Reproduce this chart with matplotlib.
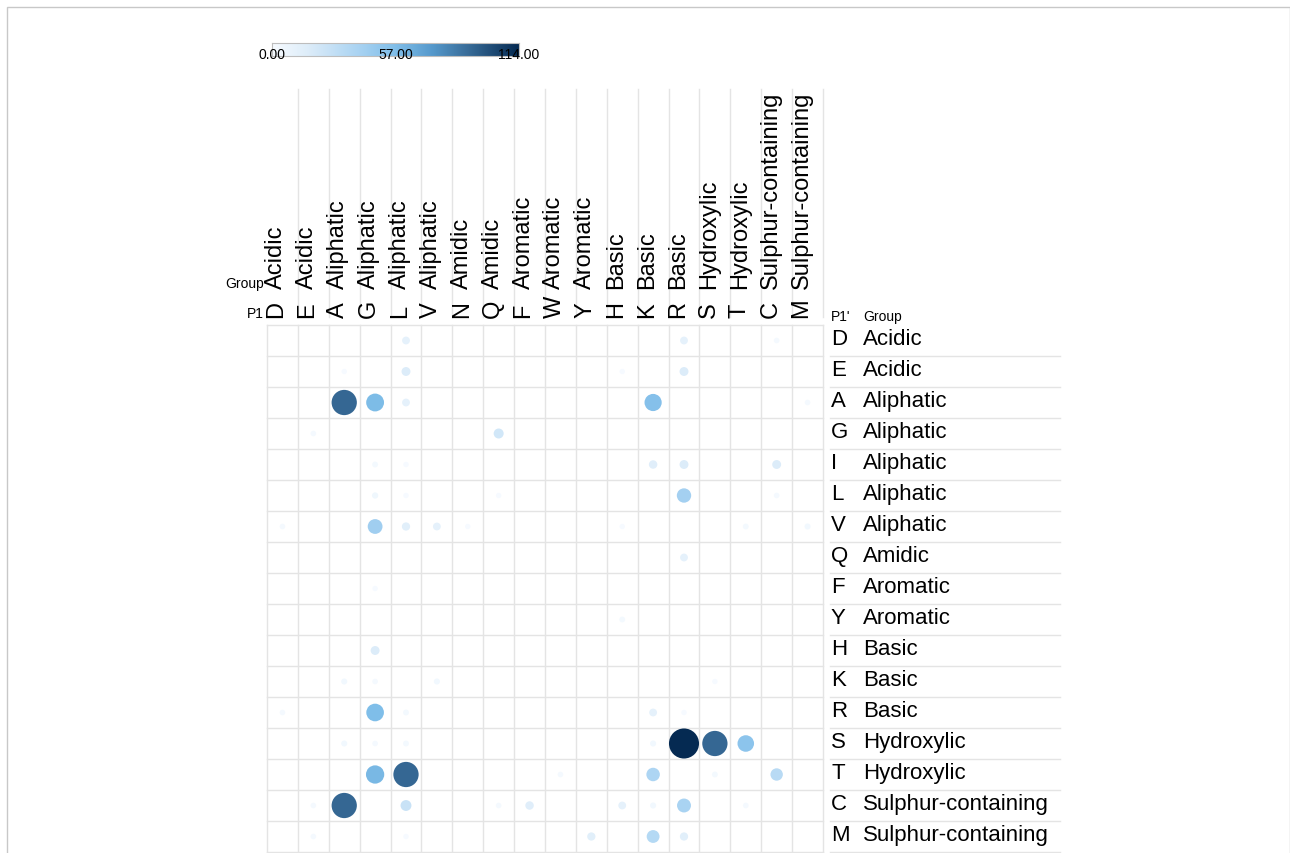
import matplotlib
matplotlib.use("Agg")
import matplotlib.pyplot as plt
import numpy as np
from matplotlib.colors import LinearSegmentedColormap, Normalize
from matplotlib.patches import Rectangle

plt.rcParams['font.family'] = ['Liberation Sans', 'DejaVu Sans']

# ---------------- data ----------------
p1_residues = ["D", "E", "A", "G", "L", "V", "N", "Q", "F", "W", "Y", "H", "K", "R", "S", "T", "C", "M"]
p1_groups = ["Acidic", "Acidic", "Aliphatic", "Aliphatic", "Aliphatic", "Aliphatic", "Amidic", "Amidic",
             "Aromatic", "Aromatic", "Aromatic", "Basic", "Basic", "Basic", "Hydroxylic", "Hydroxylic",
             "Sulphur-containing", "Sulphur-containing"]
p1p_residues = ["D", "E", "A", "G", "I", "L", "V", "Q", "F", "Y", "H", "K", "R", "S", "T", "C", "M"]
p1p_groups = ["Acidic", "Acidic", "Aliphatic", "Aliphatic", "Aliphatic", "Aliphatic", "Aliphatic", "Amidic",
              "Aromatic", "Aromatic", "Basic", "Basic", "Basic", "Hydroxylic", "Hydroxylic",
              "Sulphur-containing", "Sulphur-containing"]

# counts[row = P1'][col = P1]
counts = [
    [0, 0, 0, 0, 12, 0, 0, 0, 0, 0, 0, 0, 0, 12, 0, 0, 2, 0],     # D
    [0, 0, 1, 0, 17, 0, 0, 0, 0, 0, 0, 1, 0, 17, 0, 0, 0, 0],     # E
    [0, 0, 92, 58, 12, 0, 0, 0, 0, 0, 0, 0, 55, 0, 0, 0, 0, 2],   # A
    [0, 2, 0, 0, 0, 0, 0, 22, 0, 0, 0, 0, 0, 0, 0, 0, 0, 0],      # G
    [0, 0, 0, 3, 1, 0, 0, 0, 0, 0, 0, 0, 15, 17, 0, 0, 17, 0],    # I
    [0, 0, 0, 5, 1, 0, 0, 1, 0, 0, 0, 0, 0, 42, 0, 0, 2, 0],      # L
    [2, 0, 0, 44, 14, 12, 1, 0, 0, 0, 0, 1, 0, 0, 0, 3, 0, 4],    # V
    [0, 0, 0, 0, 0, 0, 0, 0, 0, 0, 0, 0, 0, 12, 0, 0, 0, 0],      # Q
    [0, 0, 0, 1, 0, 0, 0, 0, 0, 0, 0, 0, 0, 0, 0, 0, 0, 0],       # F
    [0, 0, 0, 0, 0, 0, 0, 0, 0, 0, 0, 3, 0, 0, 0, 0, 0, 0],       # Y
    [0, 0, 0, 17, 0, 0, 0, 0, 0, 0, 0, 0, 0, 0, 0, 0, 0, 0],      # H
    [0, 0, 4, 2, 0, 4, 0, 0, 0, 0, 0, 0, 0, 0, 1, 0, 0, 0],       # K
    [2, 0, 0, 57, 3, 0, 0, 0, 0, 0, 0, 0, 12, 1, 0, 0, 0, 0],     # R
    [0, 0, 4, 2, 3, 0, 0, 0, 0, 0, 0, 0, 4, 114, 92, 52, 0, 0],   # S
    [0, 0, 0, 60, 92, 0, 0, 0, 0, 2, 0, 0, 38, 0, 3, 0, 33, 0],   # T
    [0, 2, 92, 0, 26, 0, 0, 2, 15, 0, 0, 12, 4, 40, 0, 2, 0, 0],  # C
    [0, 2, 0, 0, 1, 0, 0, 0, 0, 0, 14, 0, 35, 14, 0, 0, 0, 0],    # M
]
color_min, color_mid, color_max = 0.0, 57.0, 114.0
# --------------------------------------

W, H = 1290, 854
DPI = 100
fig = plt.figure(figsize=(W / DPI, H / DPI), dpi=DPI)
fig.patch.set_facecolor("white")

cmap = LinearSegmentedColormap.from_list(
    "bub", [(0.0, "#f7fbff"), (0.15, "#dcecf9"), (0.35, "#a9d3f2"), (0.5, "#80bee9"),
            (0.65, "#5599cc"), (0.8, "#376a96"), (1.0, "#052a52")])
norm = Normalize(color_min, color_max)

# frame around the picture
fig.add_artist(Rectangle((7 / W, -0.05), (1290 - 7) / W, 1.05 - 8 / H, transform=fig.transFigure,
                         fill=False, edgecolor="#c8c8c8", lw=1.0))

nrow, ncol = len(p1p_residues), len(p1_residues)
ax_l, ax_r, ax_t, ax_b = 267, 823, 326, 853
ax = fig.add_axes([ax_l / W, (H - ax_b) / H, (ax_r - ax_l) / W, (ax_b - ax_t) / H])
ax.set_xlim(0, ncol)
ax.set_ylim(nrow, 0)
ax.set_axis_off()
cw = (ax_r - ax_l) / ncol
ch = (ax_b - ax_t) / nrow

def ypx(p):
    return (p - ax_t) / ch

def xpx(p):
    return (p - ax_l) / cw

grid_c = "#e4e4e4"
for j in range(ncol + 1):
    ax.plot([j, j], [0, nrow], color=grid_c, lw=1.0, clip_on=False, zorder=1)
for i in range(nrow + 1):
    ax.plot([0, ncol], [i, i], color=grid_c, lw=1.0, clip_on=False, zorder=1)

# header vertical separators
for j in range(ncol):
    ax.plot([j + 1, j + 1], [ypx(90), ypx(318)], color=grid_c, lw=1.0, clip_on=False)
# row label separators
for i in range(nrow):
    ax.plot([xpx(830), xpx(1060)], [i + 1, i + 1], color=grid_c, lw=1.0, clip_on=False)

# bubbles
vals = np.array(counts, dtype=float)
rows, cols = np.nonzero(vals)
v = vals[rows, cols]
r_px = 2.6 + 0.109 * v
s = (2 * r_px * 72.0 / DPI) ** 2
ax.scatter(cols + 0.5, rows + 0.5, s=s, c=v, cmap=cmap, norm=norm, edgecolors="none", zorder=3,
           clip_on=False)

# column labels
for j in range(ncol):
    ax.text(j + 0.5, ypx(318.5), p1_residues[j], rotation=90, rotation_mode="anchor",
            ha="left", va="baseline", fontsize=17, color="black", clip_on=False)
    ax.text(j + 0.5, ypx(289), p1_groups[j], rotation=90, rotation_mode="anchor",
            ha="left", va="baseline", fontsize=17, color="black", clip_on=False)
ax.text(xpx(264), ypx(284), "Group", ha="right", va="center", fontsize=10, clip_on=False)
ax.text(xpx(264), ypx(314), "P1", ha="right", va="center", fontsize=10, clip_on=False)

# row labels
dy = 2.0 / ch
for i in range(nrow):
    ax.text(xpx(831), i + 0.5 - dy, p1p_residues[i], ha="left", va="center", fontsize=16, clip_on=False)
    ax.text(xpx(863), i + 0.5 - dy, p1p_groups[i], ha="left", va="center", fontsize=16, clip_on=False)
ax.text(xpx(831), ypx(317), "P1'", ha="left", va="center", fontsize=10, clip_on=False)
ax.text(xpx(863), ypx(317), "Group", ha="left", va="center", fontsize=10, clip_on=False)

# colorbar
cb_l, cb_r, cb_t, cb_b = 272, 519, 44, 57
cax = fig.add_axes([cb_l / W, (H - cb_b) / H, (cb_r - cb_l) / W, (cb_b - cb_t) / H])
grad = np.linspace(color_min, color_max, 256)[None, :]
cax.imshow(grad, aspect="auto", cmap=cmap, norm=norm, extent=[color_min, color_max, 0, 1])
cax.set_xticks([])
cax.set_yticks([])
for sp in cax.spines.values():
    sp.set_color("#bdbdbd")
    sp.set_linewidth(0.8)
for val in (color_min, color_mid, color_max):
    xp = cb_l + (val - color_min) / (color_max - color_min) * (cb_r - cb_l)
    fig.text(xp / W, (H - 55) / H, f"{val:.2f}", ha="center", va="center", fontsize=10)

fig.savefig("out.png", dpi=DPI)
